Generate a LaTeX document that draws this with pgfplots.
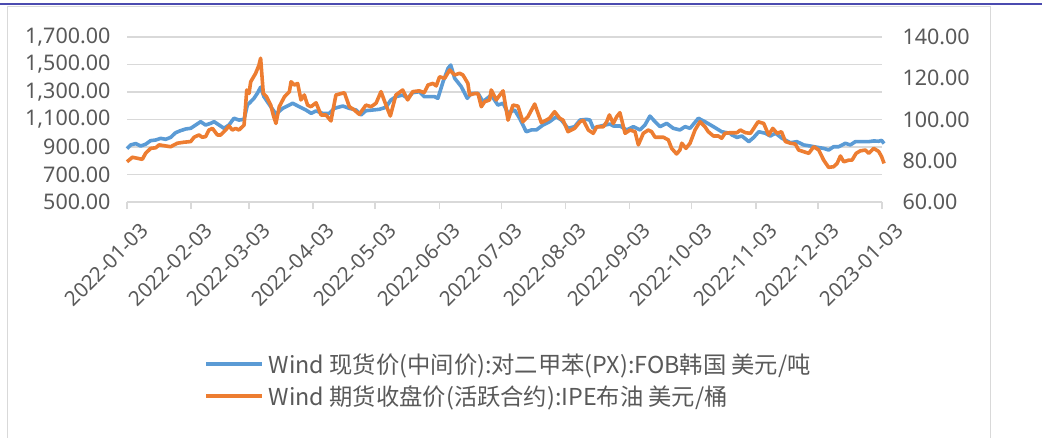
\documentclass[border=0pt]{standalone}
\usepackage{pgfplots}
\usepackage{pgfplotstable}
\pgfplotsset{compat=1.18}
\usepackage{fontspec}
\setmainfont{Noto Sans}
\newfontfamily\cjk{Noto Sans CJK SC}

\definecolor{pxblue}{HTML}{5B9BD5}
\definecolor{brentorange}{HTML}{ED7D31}
\definecolor{gridgray}{HTML}{D9D9D9}
\definecolor{labelgray}{HTML}{595959}
\definecolor{topline}{HTML}{4B4BB0}

% day = days since 2022-01-03
% PX FOB Korea, USD/t (left axis)
\pgfplotstableread{
day value
0 888
1.8 915
4.2 925
6.6 907
9.0 920
11.4 946
13.9 951
16.3 963
18.7 956
21.1 970
23.5 1004
25.9 1019
28.4 1031
30.8 1036
33.2 1060
35.6 1084
38.0 1060
40.4 1072
42.1 1084
44.5 1060
46.9 1036
49.3 1060
51.7 1109
54.1 1096
56.6 1101
58.2 1205
59.8 1229
61.4 1254
63.0 1290
64.6 1335
66.2 1266
69.5 1193
72.0 1140
75.3 1181
80.1 1218
83.3 1193
86.5 1169
89.0 1145
91.4 1162
94.6 1145
97.8 1145
100.2 1181
104.3 1198
107.5 1181
110.7 1169
113.1 1133
115.5 1164
118.8 1169
122.0 1174
125.2 1189
127.6 1242
130.0 1266
133.3 1278
135.7 1254
138.1 1295
141.3 1302
143.7 1266
145.5 1266
148.7 1266
150.3 1254
152.8 1375
155.2 1472
156.5 1496
158.4 1400
161.6 1339
164.5 1254
166.4 1290
169.7 1290
172.1 1229
176.1 1278
179.3 1205
181.8 1218
184.2 1145
187.4 1169
189.8 1109
193.0 1011
195.5 1024
197.9 1024
201.1 1060
204.3 1084
207.5 1120
210.0 1096
213.2 1036
216.4 1048
219.0 1096
222.2 1101
223.8 1096
225.4 1036
227.9 1048
231.1 1060
233.5 1067
235.1 1053
238.3 1053
241.6 1024
244.8 1048
248.0 1024
250.4 1060
252.8 1125
255.3 1084
257.7 1048
260.9 1072
264.1 1036
267.3 1024
269.8 1048
272.2 1036
276.2 1109
279.4 1084
283.5 1048
287.5 1011
291.5 1000
292.5 987
294.9 970
297.3 980
300.6 939
303.0 970
305.4 1011
308.6 1000
311.0 980
313.5 1000
316.7 963
320.7 931
323.9 939
327.1 915
330.4 907
333.6 898
336.8 890
339.2 878
341.6 902
344.1 902
347.3 927
349.7 915
352.1 939
355.3 939
358.6 939
361.0 944
363.4 942
364.8 948
366.0 925
}\pxdata

% IPE Brent, USD/bbl (right axis)
\pgfplotstableread{
day value
0 79.5
2.6 81.7
5.0 81.2
7.4 80.7
9.0 83.6
11.4 86.0
13.9 86.3
15.5 87.7
17.9 87.3
21.1 86.8
24.3 88.5
27.6 89.0
30.8 89.3
32.4 91.4
34.8 92.5
36.4 91.4
38.0 91.7
39.6 94.9
41.3 95.7
43.7 92.5
45.3 92.5
47.7 94.9
49.3 96.9
50.9 94.9
52.5 95.7
54.1 94.9
56.6 97.3
57.9 114.3
59.0 112.6
59.8 118.3
62.2 122.4
63.8 126.4
64.6 129.7
65.9 112.6
67.5 111.0
69.5 107.0
70.7 102.2
72.0 98.1
73.6 106.2
76.1 111.0
78.5 113.5
79.3 118.3
80.9 116.7
82.5 117.5
84.1 109.5
85.7 111.9
87.3 107.0
88.9 106.2
91.4 108.1
93.8 102.2
96.2 102.2
98.6 99.3
101.0 111.9
105.1 113.0
107.5 106.2
109.9 104.6
112.3 102.5
115.5 107.0
118.0 106.2
120.4 107.9
122.8 113.5
125.2 107.0
127.3 101.7
130.0 111.9
133.3 114.3
135.7 109.5
138.1 113.5
141.3 113.9
143.7 113.0
145.5 116.7
147.9 117.5
149.5 116.3
151.1 120.7
153.6 120.0
156.0 124.0
158.4 121.6
160.8 122.4
162.4 121.6
164.8 117.5
165.6 111.9
168.1 112.6
169.7 112.6
171.3 106.2
172.9 108.6
175.3 109.5
176.1 114.3
178.5 109.5
181.8 113.9
184.2 99.7
186.6 107.0
189.0 106.5
191.4 98.9
193.8 101.3
197.1 107.5
200.3 98.5
202.7 99.7
204.3 100.6
206.7 103.8
209.2 100.6
210.8 99.7
213.2 94.1
216.4 95.7
219.0 98.9
220.6 99.7
223.0 94.9
225.4 93.3
227.1 96.5
230.3 96.5
231.9 98.9
233.2 102.2
235.1 98.1
236.7 101.3
238.3 103.3
240.8 93.3
243.2 94.9
245.6 94.1
247.2 87.7
249.6 93.3
252.0 94.9
253.6 94.1
255.3 91.4
259.3 91.4
261.7 90.1
263.3 86.0
265.7 83.3
267.3 85.2
268.2 88.5
270.2 86.0
272.2 88.5
274.6 94.9
277.0 98.9
279.4 96.5
281.0 94.1
283.5 92.0
285.9 92.0
287.5 90.9
289.1 93.3
291.5 93.6
292.5 93.6
294.9 93.6
296.5 94.9
299.0 93.6
301.4 93.3
303.0 95.7
305.1 98.9
307.8 98.1
310.2 92.5
312.2 95.7
314.3 93.3
316.4 94.1
318.3 89.3
320.7 88.5
323.1 88.1
324.7 85.2
327.1 84.4
329.6 83.6
332.0 86.8
334.4 85.2
336.8 80.3
339.2 76.8
341.6 77.1
343.3 78.7
344.9 82.3
346.5 79.5
348.9 80.3
350.5 80.3
352.5 83.6
354.5 84.8
357.0 85.2
358.6 83.6
361.0 86.0
363.4 84.5
364.8 82.0
366.0 78.7
}\brentdata

\pgfplotsset{
  base/.style={
    at={(127pt,235pt)}, anchor=south west,
    scale only axis, width=755pt, height=165pt,
    xmin=0, xmax=365, enlargelimits=false, clip=false,
    tick label style={font=\fontsize{21.5}{26}\selectfont, text=labelgray},
    /pgf/number format/assume math mode=true,
  },
}

\begin{document}
\begin{tikzpicture}
\useasboundingbox (0pt,0pt) rectangle (1042pt,437pt);
\draw[gridgray, line width=1pt] (7pt,-5pt) |- (990pt,430pt) -- (990pt,-5pt);
\draw[topline, line width=1.5pt] (0pt,433pt) -- (1042pt,433pt);

\begin{axis}[base,
  ymin=500, ymax=1700, ytick={500,700,...,1700},
  yticklabel style={xshift=-6pt, /pgf/number format/.cd, fixed, fixed zerofill, precision=2, 1000 sep={,}},
  ymajorgrids, grid style={gridgray, line width=1.5pt},
  axis x line*=bottom, axis y line*=left,
  x axis line style={-, gridgray, line width=1.5pt},
  y axis line style={draw=none},
  ytick style={draw=none},
  xtick={0,31,59,90,120,151,181,212,243,273,304,334,365},
  xticklabels={2022-01-03,2022-02-03,2022-03-03,2022-04-03,2022-05-03,2022-06-03,2022-07-03,2022-08-03,2022-09-03,2022-10-03,2022-11-03,2022-12-03,2023-01-03},
  xtick style={gridgray, line width=1.5pt},
  tick align=outside, major tick length=7pt,
  xticklabel style={font=\fontsize{20.5}{25}\selectfont, rotate=45, anchor=north east, yshift=-14pt, xshift=3pt},
]
\addplot[pxblue, line width=3.6pt, line join=round] table[x=day, y=value] {\pxdata};
\end{axis}

\begin{axis}[base,
  ymin=60, ymax=140, ytick={60,80,...,140},
  yticklabel style={xshift=10pt, /pgf/number format/.cd, fixed, fixed zerofill, precision=2},
  axis x line=none, axis y line*=right,
  y axis line style={draw=none}, ytick style={draw=none},
  tick align=outside, major tick length=7pt,
  legend style={at={(axis description cs:0.102,-0.905)}, anchor=north west,
    draw=none, fill=none, font=\cjk\fontsize{23.3}{28}\selectfont, text=labelgray,
    row sep=7pt, inner sep=0pt},
  legend cell align=left,
  legend image code/.code={\draw[#1, line width=3.8pt] (0pt,0pt) -- (56pt,0pt); \path (59pt,0pt);},
]
\addlegendimage{pxblue, line width=3.6pt}
\addlegendentry{Wind 现货价(中间价):对二甲苯(PX):FOB韩国 美元/吨}
\addplot[brentorange, line width=3.6pt, line join=round] table[x=day, y=value] {\brentdata};
\addlegendentry{Wind 期货收盘价(活跃合约):IPE布油 美元/桶}
\end{axis}
\end{tikzpicture}
\end{document}
